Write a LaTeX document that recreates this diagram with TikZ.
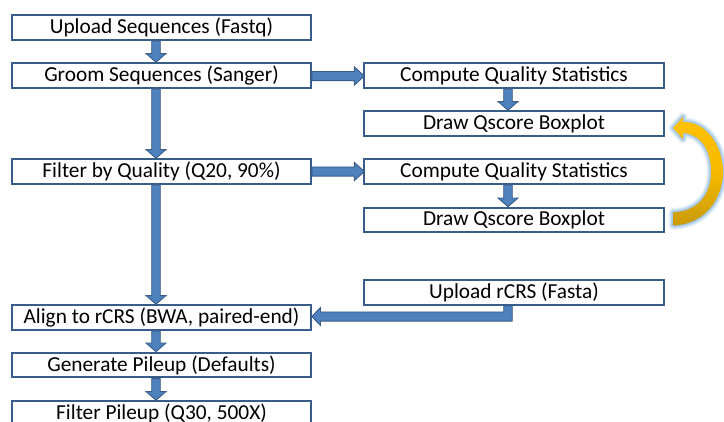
\documentclass[tikz,border=0pt]{standalone}
\usepackage{fontspec}
\setmainfont{Carlito}
\usetikzlibrary{calc,backgrounds}
\definecolor{boxline}{HTML}{385D8A}
\definecolor{arrowfill}{HTML}{4F81BD}
\definecolor{arrowline}{HTML}{385D8A}
\definecolor{goldtop}{HTML}{FFC000}
\definecolor{goldbot}{HTML}{C99A06}
\definecolor{glowblue}{HTML}{9DC3E6}

\tikzset{
  stepbox/.style={draw=boxline, line width=1.5pt, fill=white, inner sep=0pt,
    minimum height=18.5pt, text=black, font=\fontsize{16}{18}\selectfont},
  leftbox/.style={stepbox, minimum width=224pt},
  rightbox/.style={stepbox, minimum width=225pt},
  blk/.style={fill=arrowfill, draw=arrowline, line width=0.7pt, line join=miter},
  glow/.style={draw=glowblue, line join=round, line cap=round},
}

% downward block arrow from the bottom of #1 to the top of #2 at x = #3
\newcommand\downblk[3]{%
  \filldraw[blk] let \p1=(#1.south), \p2=(#2.north), \p3=(#3,0) in
    (\x3-3.2pt,\y1) -- (\x3-3.2pt,\y2+6.5pt) -- (\x3-7.5pt,\y2+6.5pt) --
    (\x3,\y2) -- (\x3+7.5pt,\y2+6.5pt) -- (\x3+3.2pt,\y2+6.5pt) --
    (\x3+3.2pt,\y1) -- cycle;}

% rightward block arrow from the right side of #1 to the left side of #2 at y = #3
\newcommand\rightblk[3]{%
  \filldraw[blk] let \p1=(#1.east), \p2=(#2.west), \p3=(0,#3) in
    (\x1,\y3+3.4pt) -- (\x2-6.5pt,\y3+3.4pt) -- (\x2-6.5pt,\y3+6.8pt) --
    (\x2+1pt,\y3) -- (\x2-6.5pt,\y3-6.8pt) -- (\x2-6.5pt,\y3-3.4pt) --
    (\x1,\y3-3.4pt) -- cycle;}

\begin{document}
\begin{tikzpicture}[x=0.75pt, y=-0.75pt]
\useasboundingbox (0,0) rectangle (724,421);

% left column
\node[leftbox] (upload) at (161.5,27.5) {Upload Sequences (Fastq)};
\node[leftbox] (groom)  at (161.5,75.5) {Groom Sequences (Sanger)};
\node[leftbox] (filter) at (161.5,171.5) {Filter by Quality (Q20, 90\%)};
\node[leftbox] (align)  at (161.5,317.5) {Align to rCRS (BWA, paired-end)};
\node[leftbox] (pileup) at (161.5,365) {Generate Pileup (Defaults)};
\node[leftbox] (fpile)  at (161.5,413.5) {Filter Pileup (Q30, 500X)};

% right column
\node[rightbox] (stats1) at (514,75.5) {Compute Quality Statistics};
\node[rightbox] (plot1)  at (514,123.5) {Draw Qscore Boxplot};
\node[rightbox] (stats2) at (514,171.5) {Compute Quality Statistics};
\node[rightbox] (plot2)  at (514,220) {Draw Qscore Boxplot};
\node[rightbox] (rcrs)   at (514,292.5) {Upload rCRS (Fasta)};

\begin{scope}[on background layer]
  \downblk{upload}{groom}{156}
  \downblk{groom}{filter}{156}
  \downblk{filter}{align}{156}
  \downblk{align}{pileup}{156}
  \downblk{pileup}{fpile}{156}
  \rightblk{groom}{stats1}{76}
  \rightblk{filter}{stats2}{171.5}
  \downblk{stats1}{plot1}{508}
  \downblk{stats2}{plot2}{508}
  % elbow arrow: reference upload down, then left into the aligner
  \filldraw[blk] let \p1=(rcrs.south), \p2=(align.east), \p3=(508,316.5) in
    (\x3-3.2pt,\y1) -- (\x3-3.2pt,\y3+3.4pt) -- (\x2+6.5pt,\y3+3.4pt) --
    (\x2+6.5pt,\y3+6.8pt) -- (\x2,\y3) -- (\x2+6.5pt,\y3-6.8pt) --
    (\x2+6.5pt,\y3-3.4pt) -- (\x3+3.2pt,\y3-3.4pt) -- (\x3+3.2pt,\y1) -- cycle;
\end{scope}

% curved loop arrow from the second boxplot back to the first
\coordinate (tail) at ($(plot2.east)+(8,-1.5)$);
\coordinate (tip)  at ($(plot1.east)+(8,4.5)$);
\foreach \w/\o in {9/0.2,6.5/0.35,4/0.55,2/0.8}{
  \draw[glow, line width=\w*0.75pt, opacity=\o]
    ($(tip)+(10,-6)$) .. controls (705,121) and (723,145) .. (723,172)
      .. controls (723,200) and (703,225) .. ($(tail)+(0,7)$)
      -- ($(tail)+(0,-6)$)
      .. controls (698,211) and (711,195) .. (711,172)
      .. controls (711,148) and (699,134) .. ($(tip)+(10,5)$)
      -- ($(tip)+(10,11)$) -- (tip) -- ($(tip)+(10,-11)$) -- cycle;
}
\shade[top color=goldtop, bottom color=goldbot, middle color=goldtop!85!goldbot]
    ($(tip)+(10,-6)$) .. controls (705,121) and (723,145) .. (723,172)
      .. controls (723,200) and (703,225) .. ($(tail)+(0,7)$)
      -- ($(tail)+(0,-6)$)
      .. controls (698,211) and (711,195) .. (711,172)
      .. controls (711,148) and (699,134) .. ($(tip)+(10,5)$)
      -- ($(tip)+(10,11)$) -- (tip) -- ($(tip)+(10,-11)$) -- cycle;
\end{tikzpicture}
\end{document}
